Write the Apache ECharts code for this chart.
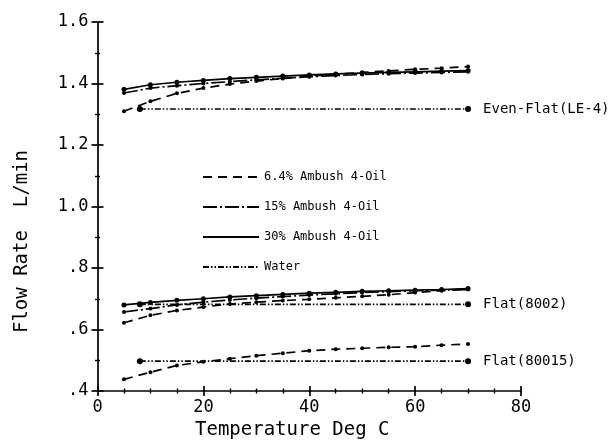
<!DOCTYPE html>
<html>
<head>
<meta charset="utf-8">
<script src="https://cdn.jsdelivr.net/npm/echarts@6/dist/echarts.min.js"></script>
<style>
  html, body { margin: 0; padding: 0; background: #fff; }
  #chart { width: 615px; height: 445px; }
</style>
</head>
<body>
<div id="chart"></div>
<script>
// Temperatures (deg C) at which flow was measured
const temps = [5, 10, 15, 20, 25, 30, 35, 40, 45, 50, 55, 60, 65, 70];
const waterTemps = [8, 70];

// Even-Flat (LE-4) nozzle, flow rate in L/min
const le4Oil64 = [1.310, 1.342, 1.368, 1.385, 1.398, 1.408, 1.416, 1.424, 1.430, 1.436, 1.441, 1.446, 1.450, 1.455];
const le4Oil15 = [1.369, 1.385, 1.393, 1.400, 1.406, 1.412, 1.417, 1.422, 1.426, 1.429, 1.432, 1.434, 1.436, 1.438];
const le4Oil30 = [1.381, 1.396, 1.404, 1.410, 1.416, 1.420, 1.424, 1.428, 1.431, 1.434, 1.436, 1.438, 1.440, 1.442];
const le4Water = [1.317, 1.317];

// Flat (8002) nozzle
const f8002Oil64 = [0.622, 0.646, 0.662, 0.673, 0.683, 0.689, 0.694, 0.698, 0.703, 0.708, 0.713, 0.720, 0.726, 0.732];
const f8002Oil15 = [0.657, 0.668, 0.680, 0.689, 0.696, 0.702, 0.707, 0.712, 0.716, 0.720, 0.723, 0.726, 0.728, 0.730];
const f8002Oil30 = [0.680, 0.688, 0.695, 0.700, 0.706, 0.710, 0.714, 0.718, 0.721, 0.724, 0.726, 0.728, 0.730, 0.733];
const f8002Water = [0.682, 0.682];

// Flat (80015) nozzle
const f80015Oil64 = [0.438, 0.461, 0.483, 0.495, 0.505, 0.515, 0.523, 0.531, 0.536, 0.539, 0.542, 0.544, 0.549, 0.553];
const f80015Water = [0.497, 0.497];

// Series names and nozzle labels
const nameOil64 = '6.4% Ambush 4-Oil';
const nameOil15 = '15% Ambush 4-Oil';
const nameOil30 = '30% Ambush 4-Oil';
const nameWater = 'Water';
const nozzleLabels = ['Even-Flat(LE-4)', 'Flat(8002)', 'Flat(80015)'];

// Axis ranges
const xMin = 0, xMax = 80, xStep = 20;
const yMin = 0.4, yMax = 1.6, yStep = 0.2;

const FONT = 'DejaVu Sans Mono';
const INK = '#000';

const styles = {};
styles[nameOil64] = { type: [9, 6], symbolSize: 4 };
styles[nameOil15] = { type: [14, 3, 2, 3], symbolSize: 4 };
styles[nameOil30] = { type: 'solid', symbolSize: 5 };
styles[nameWater] = { type: [6, 2, 1.5, 2, 1.5, 2], symbolSize: 6 };

function curve(name, xs, ys, endText) {
  const st = styles[name];
  const s = {
    type: 'line',
    name: name,
    data: xs.map((x, i) => [x, ys[i]]),
    symbol: 'circle',
    symbolSize: st.symbolSize,
    showSymbol: true,
    showAllSymbol: true,
    lineStyle: { color: INK, width: 1.7, type: st.type },
    itemStyle: { color: INK },
    emphasis: { disabled: true },
    z: name === nameWater ? 2 : 3
  };
  if (endText) {
    s.endLabel = {
      show: true,
      formatter: endText,
      distance: 15,
      color: INK,
      fontFamily: FONT,
      fontSize: 14
    };
  }
  return s;
}

const series = [
  curve(nameOil64, temps, le4Oil64),
  curve(nameOil15, temps, le4Oil15),
  curve(nameOil30, temps, le4Oil30),
  curve(nameWater, waterTemps, le4Water, nozzleLabels[0]),
  curve(nameOil64, temps, f8002Oil64),
  curve(nameOil15, temps, f8002Oil15),
  curve(nameOil30, temps, f8002Oil30),
  curve(nameWater, waterTemps, f8002Water, nozzleLabels[1]),
  curve(nameOil64, temps, f80015Oil64),
  curve(nameWater, waterTemps, f80015Water, nozzleLabels[2])
];

function yFmt(v) {
  const s = v.toFixed(1);
  return v < 1 ? s.replace(/^0/, '') : s;
}

const axisLine = { show: true, onZero: false, lineStyle: { color: INK, width: 1.7 } };

const chart = echarts.init(document.getElementById('chart'), null, { renderer: 'canvas' });
chart.setOption({
  animation: false,
  backgroundColor: '#fff',
  grid: { left: 97.5, right: 94, top: 22, bottom: 50, containLabel: false },
  legend: {
    data: [nameOil64, nameOil15, nameOil30, nameWater],
    orient: 'vertical',
    left: 197,
    top: 166,
    itemWidth: 56,
    itemHeight: 8,
    itemGap: 18,
    selectedMode: false,
    itemStyle: { opacity: 0 },
    textStyle: { color: INK, fontFamily: FONT, fontSize: 12 }
  },
  xAxis: [
    {
      type: 'value', min: xMin, max: xMax, interval: xStep,
      name: 'Temperature Deg C',
      nameLocation: 'middle',
      nameGap: 30,
      nameTextStyle: { color: INK, fontFamily: FONT, fontSize: 19, padding: [0, 34, 0, 0] },
      axisLine: axisLine,
      axisTick: { show: true, length: 5, lineStyle: { color: INK, width: 1.7 } },
      minorTick: { show: true, splitNumber: 4, length: 2.5, lineStyle: { color: INK, width: 1.4 } },
      axisLabel: { color: INK, fontFamily: FONT, fontSize: 17, margin: 8 },
      splitLine: { show: false }
    },
    {
      type: 'value', min: xMin, max: xMax, interval: xStep, position: 'bottom',
      axisLine: { show: false },
      axisTick: { show: true, inside: true, length: 5, lineStyle: { color: INK, width: 1.7 } },
      minorTick: { show: true, splitNumber: 4, length: 2.5, lineStyle: { color: INK, width: 1.4 } },
      axisLabel: { show: false },
      splitLine: { show: false }
    }
  ],
  yAxis: [
    {
      type: 'value', min: yMin, max: yMax, interval: yStep,
      name: 'Flow Rate  L/min',
      nameLocation: 'middle',
      nameGap: 66,
      nameTextStyle: { color: INK, fontFamily: FONT, fontSize: 19, padding: [0, 70, 0, 0] },
      axisLine: axisLine,
      axisTick: { show: true, length: 6, lineStyle: { color: INK, width: 1.7 } },
      minorTick: { show: true, splitNumber: 2, length: 2.5, lineStyle: { color: INK, width: 1.4 } },
      axisLabel: { color: INK, fontFamily: FONT, fontSize: 17, margin: 9, formatter: yFmt },
      splitLine: { show: false }
    },
    {
      type: 'value', min: yMin, max: yMax, interval: yStep, position: 'left',
      axisLine: { show: false },
      axisTick: { show: true, inside: true, length: 6, lineStyle: { color: INK, width: 1.7 } },
      minorTick: { show: true, splitNumber: 2, length: 2.5, lineStyle: { color: INK, width: 1.4 } },
      axisLabel: { show: false },
      splitLine: { show: false }
    }
  ],
  series: series
});
</script>
</body>
</html>
